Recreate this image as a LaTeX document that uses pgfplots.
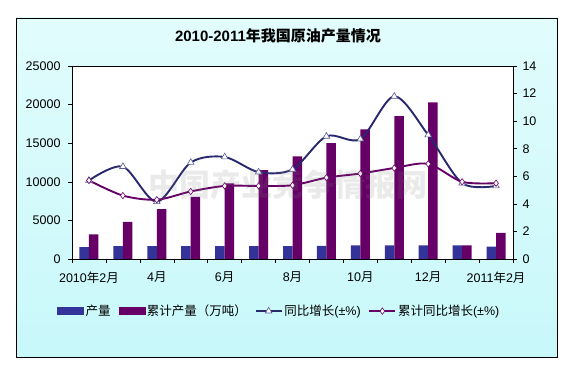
\documentclass[border=0pt]{standalone}
\usepackage{pgfplots}
\pgfplotsset{compat=1.18}
\usepackage{pgfplotstable}
\usepackage{fontspec}
\setmainfont{Liberation Sans}
\newfontfamily\cjk{Noto Sans CJK SC}
\definecolor{barblue}{RGB}{51,51,153}
\definecolor{barpurp}{RGB}{102,0,102}
\definecolor{lineblue}{RGB}{40,40,110}
\definecolor{triedge}{RGB}{90,90,150}
\definecolor{bgtop}{RGB}{226,252,252}
\definecolor{bgbot}{RGB}{200,248,250}

\pgfplotsset{
  linelegend/.style={legend image code/.code={\draw[mark repeat=2,mark phase=2,##1,line width=1.4pt] plot coordinates {(0pt,0pt) (13pt,0pt) (26pt,0pt)};}},
  blueleg/.style={legend image code/.code={\fill[barblue] (0pt,-3.5pt) rectangle (26pt,3.5pt);}},
  purpleg/.style={legend image code/.code={\fill[barpurp] (0pt,-3.5pt) rectangle (26pt,3.5pt);}},
}

\pgfplotstableread{
x prod cum yoy cumyoy
0 1550 3200 5.7 5.7
1 1680 4800 6.7 4.6
2 1680 6450 4.15 4.3
3 1680 8050 7.0 4.9
4 1680 9800 7.4 5.3
5 1680 11500 6.3 5.3
6 1680 13300 6.5 5.35
7 1700 15000 8.9 5.9
8 1750 16800 8.7 6.2
9 1750 18500 11.8 6.6
10 1750 20300 9.0 6.9
11 1780 1780 5.5 5.6
12 1600 3400 5.3 5.5
}\data

\begin{document}
\begin{tikzpicture}[x=1pt,y=1pt]
\path[use as bounding box] (0,0) rectangle (573,380);
\shade[top color=bgtop, bottom color=bgbot] (16,23) rectangle (557,362);
\draw[black, line width=0.9pt] (16,23) rectangle (557,362);
\node[font=\fontsize{15}{18}\selectfont] at (278,344) {\bfseries 2010-2011{\cjk\bfseries 年我国原油产量情况}};

\pgfplotsset{
  every axis/.append style={
    at={(72pt,121pt)}, anchor=south west, scale only axis,
    width=441pt, height=193pt, xmin=-0.5, xmax=12.5,
    tick label style={font=\fontsize{12.5}{14}\selectfont},
    /pgf/number format/assume math mode=true,
    /pgf/number format/1000 sep={},
    scaled y ticks=false,
    tick align=outside, major tick length=4pt, minor tick length=4pt,
    every tick/.style={black, line width=0.5pt},
    axis line style={black, line width=0.6pt},
  }
}

\begin{axis}[
  axis background/.style={fill=white},
  ymin=0, ymax=25000, ytick={0,5000,...,25000},
  xtick={0,2,...,12},
  xticklabels={{2010{\cjk 年}2{\cjk 月}},{4{\cjk 月}},{6{\cjk 月}},{8{\cjk 月}},{10{\cjk 月}},{12{\cjk 月}},{2011{\cjk 年}2{\cjk 月}}},
  minor xtick={-0.5,0.5,...,12.5},
  major x tick style={draw=none},
  xtick pos=bottom, ytick pos=left,
  xticklabel style={yshift=-5pt},
  yticklabel style={xshift=-4pt},
  ybar=0pt, bar width=9.5pt,
]
\addplot[fill=barblue, draw=none] table[x=x,y=prod]{\data};
\addplot[fill=barpurp, draw=none] table[x=x,y=cum]{\data};
\end{axis}

\begin{axis}[
  ymin=0, ymax=14, ytick={0,2,...,14},
  axis y line*=right, axis x line=none,
  yticklabel style={xshift=2pt},
  legend columns=4,
  legend style={at={(0.47,-0.27)}, anchor=center, draw=none, fill=none,
    font=\fontsize{12.5}{14}\selectfont,
    /tikz/every even column/.append style={column sep=6pt}},
  legend cell align=left,
]
\addlegendimage{blueleg}
\addlegendentry{{\cjk 产量}}
\addlegendimage{purpleg}
\addlegendentry{{\cjk 累计产量（万吨）}}
\addplot[lineblue, line width=1.9pt, smooth, tension=0.5,
  mark=triangle*, mark size=3.8pt, mark options={fill=white, draw=triedge, line width=0.6pt},
  linelegend]
  table[x=x,y=yoy]{\data};
\addlegendentry{{\cjk 同比增长}(±\%)}
\addplot[barpurp, line width=1.9pt, smooth, tension=0.5,
  mark=diamond*, mark size=3.2pt, mark options={fill=white, draw=barpurp, line width=0.6pt},
  linelegend]
  table[x=x,y=cumyoy]{\data};
\addlegendentry{{\cjk 累计同比增长}(±\%)}
\end{axis}

\node[text=gray, opacity=0.16, font=\cjk\bfseries\fontsize{31}{34}\selectfont] at (288,195) {中国产业竞争情报网};
\end{tikzpicture}
\end{document}
